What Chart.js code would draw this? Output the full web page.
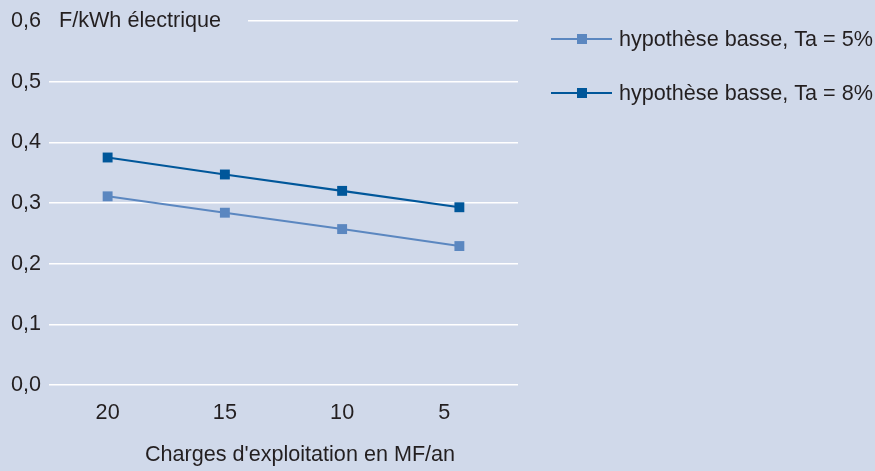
<!DOCTYPE html>
<html>
<head>
<meta charset="utf-8">
<script src="https://cdn.jsdelivr.net/npm/chart.js@4"></script>
<style>
  html, body { margin: 0; padding: 0; background: #d0d9ea; }
  #wrap { width: 875px; height: 471px; position: relative; }
</style>
</head>
<body>
<div id="wrap"><canvas id="myChart" width="875" height="471"></canvas></div>
<script>
let charges = ['20', '15', '10', '5']
let ta5 = [0.311, 0.284, 0.257, 0.229]
let ta8 = [0.375, 0.347, 0.320, 0.293]
let noms = ['hypothèse basse, Ta = 5%', 'hypothèse basse, Ta = 8%']
let titreX = "Charges d'exploitation en MF/an"
let unite = 'F/kWh électrique'

const fond = '#d0d9ea'
const texte = '#231f20'
const police = "'Liberation Sans', Arial, sans-serif"
const taille = 21.6

// titres des axes, dessinés à la main
const titres = {
  id: 'titres',
  afterDraw(chart) {
    const ctx = chart.ctx
    const y = chart.scales.y.getPixelForValue(0.6)
    ctx.save()
    // la ligne 0,6 ne commence qu'après le titre
    ctx.fillStyle = fond
    ctx.fillRect(chart.chartArea.left - 1, y - 3, 249 - chart.chartArea.left, 6)
    ctx.fillStyle = texte
    ctx.font = taille + 'px ' + police
    ctx.textBaseline = 'middle'
    ctx.fillText(unite, 59, y)
    ctx.textAlign = 'center'
    ctx.fillText(titreX, 300, 455)
    ctx.restore()
  }
}

// légende à droite : trait + carré
const legende = {
  id: 'legende',
  afterDraw(chart) {
    const ctx = chart.ctx
    ctx.save()
    chart.data.datasets.forEach((ds, i) => {
      const y = 39 + i * 54
      ctx.strokeStyle = ds.borderColor
      ctx.lineWidth = 2
      ctx.beginPath()
      ctx.moveTo(551, y)
      ctx.lineTo(612, y)
      ctx.stroke()
      ctx.fillStyle = ds.backgroundColor
      ctx.fillRect(577, y - 5, 10, 10)
      ctx.fillStyle = texte
      ctx.font = taille + 'px ' + police
      ctx.textBaseline = 'middle'
      ctx.fillText(ds.label, 619, y + 1)
    })
    ctx.restore()
  }
}

const data = {
  labels: charges,
  datasets: [
    {
      label: noms[0],
      data: ta5,
      borderColor: '#5b87c0',
      backgroundColor: '#5b87c0',
      borderWidth: 2,
      pointStyle: 'rect',
      pointRadius: 7,
      pointBorderWidth: 0
    },
    {
      label: noms[1],
      data: ta8,
      borderColor: '#00579a',
      backgroundColor: '#00579a',
      borderWidth: 2.2,
      pointStyle: 'rect',
      pointRadius: 7,
      pointBorderWidth: 0
    }
  ]
}

const config = {
  type: 'line',
  data: data,
  plugins: [titres, legende],
  options: {
    responsive: false,
    animation: false,
    layout: { padding: { top: 21, right: 357, left: 0, bottom: 0 } },
    plugins: {
      legend: { display: false },
      tooltip: { enabled: false }
    },
    scales: {
      x: {
        offset: true,
        grid: { display: false, drawTicks: false },
        border: { display: false },
        ticks: {
          color: texte,
          font: { family: police, size: taille },
          padding: 15,
          // le "5" est un peu décalé vers la gauche dans l'original
          callback: (v, i) => i == charges.length - 1 ? charges[i] + '     ' : charges[i]
        },
        afterFit(scale) { scale.height = 86 }
      },
      y: {
        min: 0,
        max: 0.6,
        grid: { color: '#ffffff', lineWidth: 1.5, drawTicks: false },
        border: { display: false },
        ticks: {
          stepSize: 0.1,
          color: texte,
          padding: 8,
          font: { family: police, size: taille },
          callback: v => v.toFixed(1).replace('.', ',')
        },
        afterFit(scale) { scale.width = 49 }
      }
    }
  }
}

window.onload = function () {
  new Chart(document.getElementById('myChart'), config)
}
</script>
</body>
</html>
